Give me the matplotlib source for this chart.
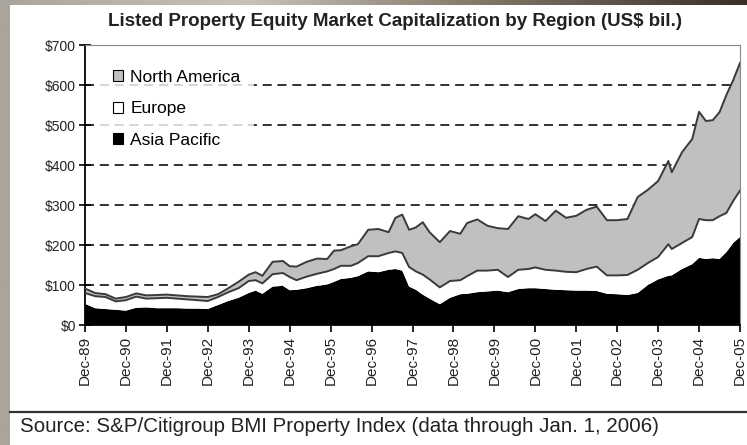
#! /usr/bin/env python3

import matplotlib
matplotlib.use('Agg')
import matplotlib.pyplot as plt
import numpy as np
from matplotlib.patches import Patch, Rectangle

# months after Dec-89 (US$ bil.)
months = [0, 3, 6, 9, 12, 15, 18, 21, 24, 27, 30, 33, 36, 39, 42, 45, 48, 50, 52,
          55, 58, 60, 62, 65, 68, 71, 73, 75, 78, 80, 83, 86, 89, 91, 93, 95, 97,
          99, 101, 104, 107, 110, 112, 115, 118, 121, 124, 127, 130, 132, 135, 138,
          141, 144, 147, 150, 153, 156, 159, 162, 165, 168, 171, 172, 175, 178, 180,
          182, 184, 186, 188, 190, 192]

asia_pacific = [53, 42, 40, 38, 36, 43, 44, 42, 42, 42, 41, 41, 40, 50, 60, 68, 80, 86, 78,
                96, 98, 87, 88, 92, 98, 101, 108, 115, 118, 122, 134, 132, 138, 140, 136, 96, 88,
                76, 66, 52, 68, 77, 78, 82, 84, 86, 82, 90, 92, 92, 90, 88,
                87, 86, 86, 85, 78, 77, 75, 80, 100, 114, 123, 124, 140, 152, 168,
                165, 167, 165, 182, 205, 220]

europe = [27, 30, 30, 21, 26, 28, 22, 25, 26, 24, 23, 21, 20, 20, 22, 24, 30, 26, 26,
          31, 32, 33, 24, 29, 30, 33, 32, 33, 30, 33, 38, 40, 42, 44, 44, 49, 46,
          50, 48, 42, 42, 35, 44, 54, 52, 52, 38, 48, 48, 52, 48, 48,
          46, 46, 54, 61, 46, 47, 50, 58, 55, 56, 79, 66, 65, 68, 97,
          97, 95, 107, 98, 105, 116]

north_america = [11, 8, 7, 7, 8, 8, 8, 8, 8, 8, 8, 9, 10, 7, 10, 16, 16, 20, 19,
                 31, 30, 27, 34, 37, 38, 31, 46, 39, 49, 47, 66, 68, 52, 84, 96, 93, 110,
                 131, 118, 113, 125, 116, 133, 128, 112, 104, 120, 134, 125, 133, 122, 150,
                 135, 141, 148, 150, 138, 138, 140, 182, 183, 190, 208, 192, 227, 245, 268,
                 248, 250, 260, 295, 302, 319]

tick_labels = ['Dec-89', 'Dec-90', 'Dec-91', 'Dec-92', 'Dec-93', 'Dec-94', 'Dec-95',
               'Dec-96', 'Dec-97', 'Dec-98', 'Dec-99', 'Dec-00', 'Dec-01', 'Dec-02',
               'Dec-03', 'Dec-04', 'Dec-05']
y_ticks = [0, 100, 200, 300, 400, 500, 600, 700]

W, H = 747, 445
plt.rcParams['font.family'] = ['Liberation Sans', 'DejaVu Sans']
fig = plt.figure(figsize=(W / 100, H / 100), dpi=100)

# marbled backdrop with white slide panel
bg = fig.add_axes([0, 0, 1, 1], zorder=-10)
grad = np.linspace(0, 1, 256)[None, :]
bg.imshow(grad, aspect='auto', extent=[0, 1, 0, 1],
          cmap=matplotlib.colors.LinearSegmentedColormap.from_list(
              'marble', ['#aaa59a', '#c8c2b6', '#7d7264', '#3b3026']))
bg.add_patch(Rectangle((10 / W, 0), 1, 1 - 5 / H, facecolor='white', edgecolor='none'))
bg.plot([10 / W, 1], [1 - 411.5 / H] * 2, color='#333333', lw=1.6)
bg.set_xlim(0, 1)
bg.set_ylim(0, 1)
bg.axis('off')

ax = fig.add_axes([85 / W, 1 - 325 / H, 655 / W, 280 / H])
ax.set_facecolor('none')

asia = np.array(asia_pacific)
eu_top = asia + np.array(europe)
total = eu_top + np.array(north_america)

for v in y_ticks[1:-1]:
    ax.axhline(v, color='#222222', lw=1.3, ls=(0, (5, 3.2)), zorder=0)

ax.stackplot(months, asia_pacific, europe, north_america,
             colors=['black', 'white', '#c0c0c0'], lw=0, zorder=2)
ax.plot(months, eu_top, color='#3a3a3a', lw=1.4, zorder=3)
ax.plot(months, total, color='#3a3a3a', lw=1.4, zorder=3)

ax.set_xlim(0, 192)
ax.set_ylim(0, 700)
ax.set_xticks(np.arange(0, 193, 12))
ax.set_xticklabels(tick_labels, rotation=90, fontsize=11, color='#222222')
ax.set_yticks(y_ticks)
ax.set_yticklabels(['$%d' % v for v in y_ticks], fontsize=10, color='#222222')
ax.tick_params(axis='y', direction='inout', length=9, width=1.2, pad=2)
ax.tick_params(axis='x', direction='out', length=5, width=1.2, pad=3)
for s in ['left', 'bottom']:
    ax.spines[s].set_linewidth(1.3)
for s in ['top', 'right']:
    ax.spines[s].set_color('#888888')
    ax.spines[s].set_linewidth(0.8)

handles = [Patch(facecolor='#c0c0c0', edgecolor='black', lw=0.8),
           Patch(facecolor='white', edgecolor='black', lw=0.8),
           Patch(facecolor='black', edgecolor='black', lw=0.8)]
leg = ax.legend(handles, ['North America', 'Europe', 'Asia Pacific'],
                loc='upper left', bbox_to_anchor=(0.008, 0.992), fontsize=12.5,
                handlelength=0.6, handleheight=0.6, handletextpad=0.4,
                labelspacing=0.95, borderpad=0.8, frameon=True, fancybox=False)
leg.get_frame().set_facecolor('white')
leg.get_frame().set_edgecolor('none')
leg.set_zorder(1)

fig.text(395 / W, 1 - 22 / H,
         'Listed Property Equity Market Capitalization by Region (US$ bil.)',
         ha='center', va='center', fontsize=13.5, fontweight='bold', color='#222222')
fig.text(20 / W, 1 - 427 / H,
         'Source: S&P/Citigroup BMI Property Index (data through Jan. 1, 2006)',
         ha='left', va='center', fontsize=14.8, color='#222222')

fig.savefig('out.png', dpi=100)
